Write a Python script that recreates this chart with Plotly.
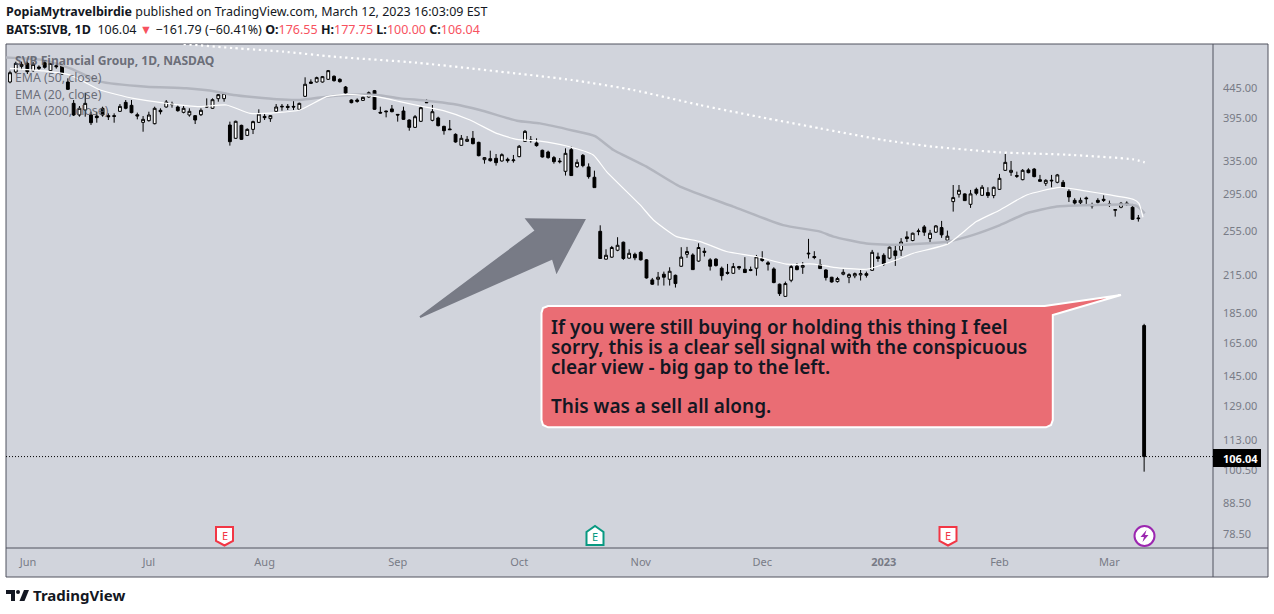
import math
import plotly.graph_objects as go

opens = [455.5,473.6,484.1,489.8,476.1,482.9,491,476.1,485.4,485.4,
    455.5,419.2,400.6,408.5,400.6,399,411.2,399.6,399.6,406.4,
    420.8,416,401.1,389.3,391.9,387.3,408,413.3,417,413.3,
    404.8,400.6,399.6,401.1,414.3,411.2,426.9,426.9,385.3,365.9,
    384.8,370.1,378.8,389.3,398.5,395,406.4,413.3,414.3,414.3,
    409.6,430.8,455.5,455.5,455.5,460.3,465.7,460.3,446.7,424.7,
    424.7,424.1,429.7,440.4,404.8,406.9,410.2,401.6,406.9,392.9,
    381.8,390.9,420.8,392.4,396,383.3,379.4,371.6,356,361.6,
    365.9,360.2,336.7,338,338.5,335,337.2,335.4,340.7,361.6,
    362.5,359.3,349.2,346.9,339.4,335,321.8,350.1,327.7,342.4,
    327.3,314.4,254.8,228.6,230.4,236.7,244.2,229.5,233,234.8,
    228,210.9,211.4,215.6,211.4,214.7,222.4,233,232.4,226.9,
    235.8,228,228.6,220.7,217.2,216.4,222.1,219.8,219.5,220.7,
    229.2,225.4,220.1,207.4,197.8,210.6,222.4,221.5,233.3,231,
    223.8,219.2,213.1,209.5,215.6,213.1,214.2,215,216.1,218.9,
    230.7,232.1,229.5,236.1,236.7,249.3,245.8,254.5,259.2,247.7,
    253.9,258.5,246.1,286,294.3,294.7,283,300,293.1,296.2,
    292.8,300,323,320.5,316.5,311.5,323.5,324.6,311.5,307.1,
    309.9,308.3,308.3,297.7,287.4,284.8,290.1,281.2,287.4,288.6,
    282.7,276.5,279.8,283.4,279.8,268.4,176.55]
highs = [476,493,493,493,492.4,486,494.3,493,489.8,486.6,
    462.1,424.7,414.9,436.9,405.8,405.8,413.8,403.2,403.2,418.1,
    424.7,424.7,404.3,399,405.8,413.8,411.2,424.7,421.9,416,
    414.9,411.2,400.6,411.2,427.4,427.4,434.7,438.1,390.4,391.9,
    385.8,380.4,391.9,409.6,402.1,400.1,418.1,418.1,418.1,425.8,
    420.3,463.9,460.3,465.1,466.3,477.3,467.5,462.1,448.5,425.8,
    427.4,430.2,439,441.6,413.8,407.4,416.5,401.6,413.8,393.9,
    400.6,413.8,425.8,416.5,398,384.3,392.9,373,370.6,369.1,
    376.4,361.1,339.8,348.7,344.2,345.1,339.4,342.9,356.5,377.9,
    369.1,365.9,350.1,348.7,341.6,338.9,351.9,354.2,337.2,344.2,
    331.9,322.6,260.8,237.6,240.7,249,244.8,237.6,234.5,235.8,
    228.6,212.5,217.5,217.8,221.5,215.3,239.5,239.8,233.9,243.2,
    238.9,229.5,229.5,222.1,224.4,225.2,222.7,230.4,222.1,232.4,
    235.8,226.9,221.5,207.9,209.5,223.3,225.2,226,247.4,235.8,
    228.6,219.8,213.4,213.4,219.8,216.4,217,219.2,217.8,237,
    234.5,233.9,240.1,240.7,248.1,254.8,253.5,257.5,261.1,256.2,
    261.1,265.3,255.5,305.1,305.1,295.4,299.3,302,305.1,302.4,
    303.2,318.5,344.2,335,321.4,324.6,325.6,326,317.3,312,
    317.3,318.5,311.1,300,289.8,290.5,291.6,284.8,289.8,293.1,
    287.1,277.2,285.6,286.3,283.4,271.5,177.75]
lows = [453.2,471.1,477.3,469.9,473.6,477.3,479.8,474.2,479.8,468.1,
    441.6,399,398,398,385.3,388.8,398,392.9,388.8,405.3,
    409.6,403.2,393.9,375.4,390.4,386.3,401.6,412.2,412.2,405.8,
    403.2,398,386.8,399,412.2,410.2,421.9,421.9,355.6,364.9,
    363.5,369.1,372,388.3,392.9,390,405.3,407.4,408.5,408.5,
    408.5,429.7,452,454.4,454.4,459.1,456.1,454.4,434.7,419.2,
    420.3,423,428.5,408.5,403.2,397,404.8,390.4,392.9,376.9,
    380.8,389.8,419.7,390.9,383.3,371.1,377.9,359.7,355.6,360.7,
    357.4,341.1,331.5,334.1,329,334.1,332.8,332.8,339.8,360.7,
    359.7,354.2,339.4,338,331.5,331.9,316.5,316.1,326,326.9,
    312.7,302,228.9,228.3,229.8,235.8,228,229.2,227.7,227.4,
    212,206.8,206.3,206.3,206.3,204.7,221.8,229.8,219.2,226.3,
    231,218.7,222.1,210.4,215.3,215.9,219.2,216.7,218.1,214.4,
    226.3,218.7,208.2,198.1,197.6,209,218.9,215.9,229.2,228.6,
    220.4,210.4,208.7,208.7,214.7,208.2,212.3,210.4,212.8,218.4,
    226.3,222.7,228.6,222.7,231.5,244.4,245.1,250.9,250.3,243.8,
    253.2,248.4,242.6,275.1,290.5,286.7,279.1,293.1,292.4,290.1,
    289.8,299.3,322.3,316.1,313.6,310.7,319.3,314.4,309.1,304,
    302.4,307.1,301.6,285.6,282.3,283,283.4,278.4,284,285.6,
    280.1,269.8,278.7,281.2,266.3,264.6,100]
closes = [472.3,489.8,487.9,474.2,487.9,480.4,482.3,489.8,483.5,469.9,
    442.7,400.6,411.2,419.2,388.8,396.5,400.6,398,398.5,414.3,
    411.2,404.3,399,393.9,400.6,411.2,405.8,421.4,418.1,407.4,
    411.2,406.4,392.9,408,413.3,425.2,433.6,435.8,361.1,390.9,
    364.4,378.8,390.4,402.1,396.5,399.6,413.3,414.3,412.7,413.3,
    419.2,451.5,453.2,463.3,465.1,476.1,457.9,456.1,436.4,420.3,
    422.5,429.1,436.9,409.6,403.7,405.8,405.8,400.6,393.9,381.8,
    398,412.2,420.3,405.8,384.3,376.9,378.4,360.7,365.9,364.4,
    358.3,342,339.4,335.4,332.8,343.3,335.4,336.3,354.7,375.9,
    363.5,355.6,340.3,339.4,334.1,334.1,345.1,316.5,333.2,329,
    315.2,302,229.2,232.1,239.2,241.3,229.2,233.9,229.8,228,
    212.5,207.4,213.1,213.1,218.1,207.9,230.4,235.5,219.5,239.2,
    234.8,222.4,223,214.4,216.4,222.1,221,217,218.9,230.7,
    227.4,224.2,208.7,199.9,207.9,222.1,219.5,223,233.9,230.1,
    220.4,212.8,209.2,212,217.2,215.3,216.1,216.1,214.7,234.8,
    229.2,224.4,239.5,231.8,244.4,247.7,252.9,255.1,253.9,252.9,
    260.2,251.3,250,290.5,298.9,287.1,294.7,295.4,302.4,292.8,
    302.4,313.1,333.2,323,315.7,323,320.1,315.2,309.5,310.7,
    310.7,317.3,302.4,291.3,284.4,287.4,289.3,281.9,285.2,287.4,
    283.4,277.2,284.1,284.1,267,267.7,106.04]

# EMAs: bar position and price
ema50_x = [-0.7,5.8,10.4,15.6,23.6,30.5,35.7,38.6,46.1,50.1,54.7,58.2,63.4,67.4,72,76.6,81.2,87.6,91.6,97.4,101.1,104.3,110,115.8,125,133.6,140,142.3,148,153.8,162.1,166.5,171.1,175.7,180.9,185.5,193,194.7,196.1]
ema50_y = [501,496,480.4,456.2,447.3,444.4,438.7,433,425.8,424.7,430.2,433,433,427.4,423.6,418.1,408.5,391.9,387.8,376.9,369.1,349.6,327.7,303.2,280.5,261,254.5,249.6,243,241.7,244.8,251.3,261,273.3,280.5,281.9,282.7,281.2,273.3]
ema20_x = [0,5.8,10.4,15.6,21.3,27.1,32.8,37.4,41.5,46.1,50.1,54.7,58.2,63.4,67.4,70.9,74.9,79.5,84.1,87.6,91.6,96.2,100.8,103.1,108.9,111.2,115.2,119.3,123.8,129,134.2,138.2,140,142.3,148,153.2,156.1,162.1,167,171.1,175.7,181.4,185.5,190.1,194.1,195.1,195.8]
ema20_y = [480.4,475.5,468,441.6,427.4,419.2,413.8,416.5,403.2,404.3,408.5,430.2,434.1,430.2,421.9,414.9,407.4,392.9,373,364.4,362,355.1,342.9,321.4,282.3,266.3,249.6,244.8,235.5,231,224.2,224.4,223.5,221.5,219.8,228,233.9,242.6,264.6,276.9,293.5,302.4,298.5,293.5,288.6,284.1,269.1]
ema200_x = [30,38.6,47.2,55.9,70.3,97.1,107.7,119.2,130.8,140,150.9,159.5,171.1,182.6,194.1,196.1]
ema200_y = [528,519.8,512.7,502.7,491,459.1,441.6,416.5,395.4,380.3,363.5,354.2,346.4,343.3,337.2,333.2]

price_ticks = [445,395,335,295,255,215,185,165,145,129,113,100.5,88.5,78.5]
month_pos = [3.1,24,44,67,88,109,130,151,171,190]
month_labels = ["Jun","Jul","Aug","Sep","Oct","Nov","Dec","<b>2023</b>","Feb","Mar"]
last_price = 106.04

callout_lines = [
    "If you were still buying or holding this thing I feel",
    "sorry, this is a clear sell signal with the conspicuous",
    "clear view - big gap to the left.",
    "This was a sell all along.",
]
callout_y = [327, 347, 367, 406]

W, H = 1274, 614
L, R, T, B = 6, 1213, 44, 548
BG = "#d1d4dc"
GREY = "#787b86"
FRAME = "#50535e"
FONT = "Noto Sans"


def px(x):
    return (x - L) / (R - L)


def py(y):
    return (B - y) / (B - T)


def path(points, close=True):
    s = "M " + " L ".join(f"{px(a):.5f},{py(b):.5f}" for a, b in points)
    return s + (" Z" if close else "")


def text(x, y, s, size=12, color="#131722", anchor="left", weight=None):
    # annotations carry about 2px of padding on the left
    if anchor == "left":
        x -= 2
    font = dict(family=FONT, size=size, color=color)
    if weight:
        font["weight"] = weight
    return dict(xref="paper", yref="paper", x=px(x), y=py(y), text=s, showarrow=False,
                xanchor=anchor, yanchor="middle", align="left", font=font)


fig = go.Figure()
fig.add_trace(go.Scatter(x=ema200_x, y=ema200_y, mode="lines",
                         line=dict(color="white", width=2.2, dash="2.2px,3.6px", shape="spline", smoothing=0.5)))
fig.add_trace(go.Scatter(x=ema50_x, y=ema50_y, mode="lines",
                         line=dict(color="#b2b5be", width=2.5, shape="spline", smoothing=0.5)))
fig.add_trace(go.Scatter(x=ema20_x, y=ema20_y, mode="lines",
                         line=dict(color="white", width=1.2, shape="spline", smoothing=0.5)))
fig.add_trace(go.Candlestick(
    x=list(range(len(opens))), open=opens, high=highs, low=lows, close=closes,
    increasing=dict(line=dict(color="black", width=1), fillcolor="white"),
    decreasing=dict(line=dict(color="black", width=1), fillcolor="black"),
    whiskerwidth=0,
))

shapes = [
    # frame of the chart, below everything
    dict(type="rect", xref="paper", yref="paper", x0=px(6), x1=px(1268), y0=py(577), y1=py(44),
         fillcolor=BG, line=dict(color=FRAME, width=1), layer="below"),
    dict(type="line", xref="paper", yref="paper", x0=px(1213), x1=px(1213), y0=py(577), y1=py(44),
         line=dict(color=FRAME, width=1)),
    dict(type="line", xref="paper", yref="paper", x0=px(6), x1=px(1268), y0=py(548), y1=py(548),
         line=dict(color=FRAME, width=1)),
    # last price line and its tag
    dict(type="line", xref="paper", yref="y", x0=0, x1=1, y0=last_price, y1=last_price,
         line=dict(color="black", width=1, dash="1px,2px")),
    dict(type="rect", xref="paper", yref="paper", x0=px(1213), x1=px(1261), y0=py(467), y1=py(449),
         fillcolor="#000000", line=dict(width=0)),
    # arrow
    dict(type="path", xref="paper", yref="paper",
         path=path([(420,317),(535.7,230.7),(526.7,219.3),(584.3,220),(556.7,271.7),(552.7,258.3)]),
         fillcolor=GREY, line=dict(color=GREY, width=2)),
    # callout
    dict(type="path", xref="paper", yref="paper",
         path=path([(548,306),(1044.7,306),(1121,295),(1052.8,315),(1052.8,420),(1051,425),(1046,427.3),
                    (548,427.3),(543,425),(541.5,420),(541.5,313),(543,308)]),
         fillcolor="#ea6d74", line=dict(color="white", width=2)),
    # earnings and split markers
    dict(type="path", xref="paper", yref="paper",
         path=path([(216,527),(233,527),(233,541),(224.5,545.5),(216,541)]),
         fillcolor="white", line=dict(color="#f23645", width=2)),
    dict(type="path", xref="paper", yref="paper",
         path=path([(586.5,545),(603.5,545),(603.5,532),(595,526),(586.5,532)]),
         fillcolor="white", line=dict(color="#089981", width=2)),
    dict(type="path", xref="paper", yref="paper",
         path=path([(939.5,527),(956.5,527),(956.5,541),(948,545.5),(939.5,541)]),
         fillcolor="white", line=dict(color="#f23645", width=2)),
    dict(type="circle", xref="paper", yref="paper", x0=px(1134.5), x1=px(1154.5), y0=py(546), y1=py(526),
         fillcolor="white", line=dict(color="#9c27b0", width=2)),
    dict(type="path", xref="paper", yref="paper",
         path=path([(1146.5,530),(1140.5,537),(1144,537),(1142.5,542),(1148.5,535),(1145,535)]),
         fillcolor="#9c27b0", line=dict(width=0)),
    # logo mark
    dict(type="path", xref="paper", yref="paper",
         path=path([(6,590),(15,590),(15,601),(11,601),(11,594),(6,594)]),
         fillcolor="#131722", line=dict(width=0)),
    dict(type="circle", xref="paper", yref="paper", x0=px(16), x1=px(20), y0=py(594), y1=py(590),
         fillcolor="#131722", line=dict(width=0)),
    dict(type="path", xref="paper", yref="paper",
         path=path([(24,590),(29,590),(24.5,601),(19.5,601)]),
         fillcolor="#131722", line=dict(width=0)),
]

annotations = [
    text(6, 11, "<b>PopiaMytravelbirdie</b> published on TradingView.com, March 12, 2023 16:03:09 EST", 12.47),
    text(6, 29, "<b>BATS:SIVB, 1D</b>  106.04 <span style='color:#f7525f'>▼</span> −161.79 (−60.41%) "
                "<b>O:</b><span style='color:#f7525f'>176.55</span> <b>H:</b><span style='color:#f7525f'>177.75</span> "
                "<b>L:</b><span style='color:#f7525f'>100.00</span> <b>C:</b><span style='color:#f7525f'>106.04</span>", 12.5),
    text(15, 60, "<b>SVB Financial Group, 1D, NASDAQ</b>", 12.1, "rgba(80,83,94,0.8)"),
    text(15, 77, "EMA (50, close)", 12.3, "rgba(80,83,94,0.8)"),
    text(15, 94, "EMA (20, close)", 12.3, "rgba(80,83,94,0.8)"),
    text(15, 111, "EMA (200, close)", 12.3, "rgba(80,83,94,0.8)"),
    text(1223, 458, "<b>106.04</b>", 11, "white"),
    text(224.5, 535, "E", 11, "#f23645", anchor="center"),
    text(595, 536, "E", 11, "#089981", anchor="center"),
    text(948, 535, "E", 11, "#f23645", anchor="center"),
    text(33, 595, "<b>TradingView</b>", 15),
]
for line, y in zip(callout_lines, callout_y):
    annotations.append(text(551, y, line, 19, "#131722", weight=600))

fig.update_layout(
    width=W, height=H,
    margin=dict(l=L, r=W - R, t=T, b=H - B, pad=0),
    paper_bgcolor="white", plot_bgcolor=BG,
    showlegend=False, hovermode=False,
    shapes=shapes, annotations=annotations,
    xaxis=dict(range=[-0.69, 207.9], rangeslider=dict(visible=False), showgrid=False, zeroline=False,
               tickmode="array", tickvals=month_pos, ticktext=month_labels, ticks="", ticklabelstandoff=6,
               tickfont=dict(family=FONT, size=11, color=GREY)),
    yaxis=dict(type="log", side="right", range=[math.log10(74.3), math.log10(528.1)], showgrid=False, zeroline=False,
               tickmode="array", tickvals=price_ticks, ticktext=[f"{v:.2f}" for v in price_ticks], ticks="", ticklabelstandoff=9,
               tickfont=dict(family=FONT, size=11, color=GREY)),
)

fig.write_html("out.html", config={"displayModeBar": False},
               post_script="document.body.style.margin='0';")
